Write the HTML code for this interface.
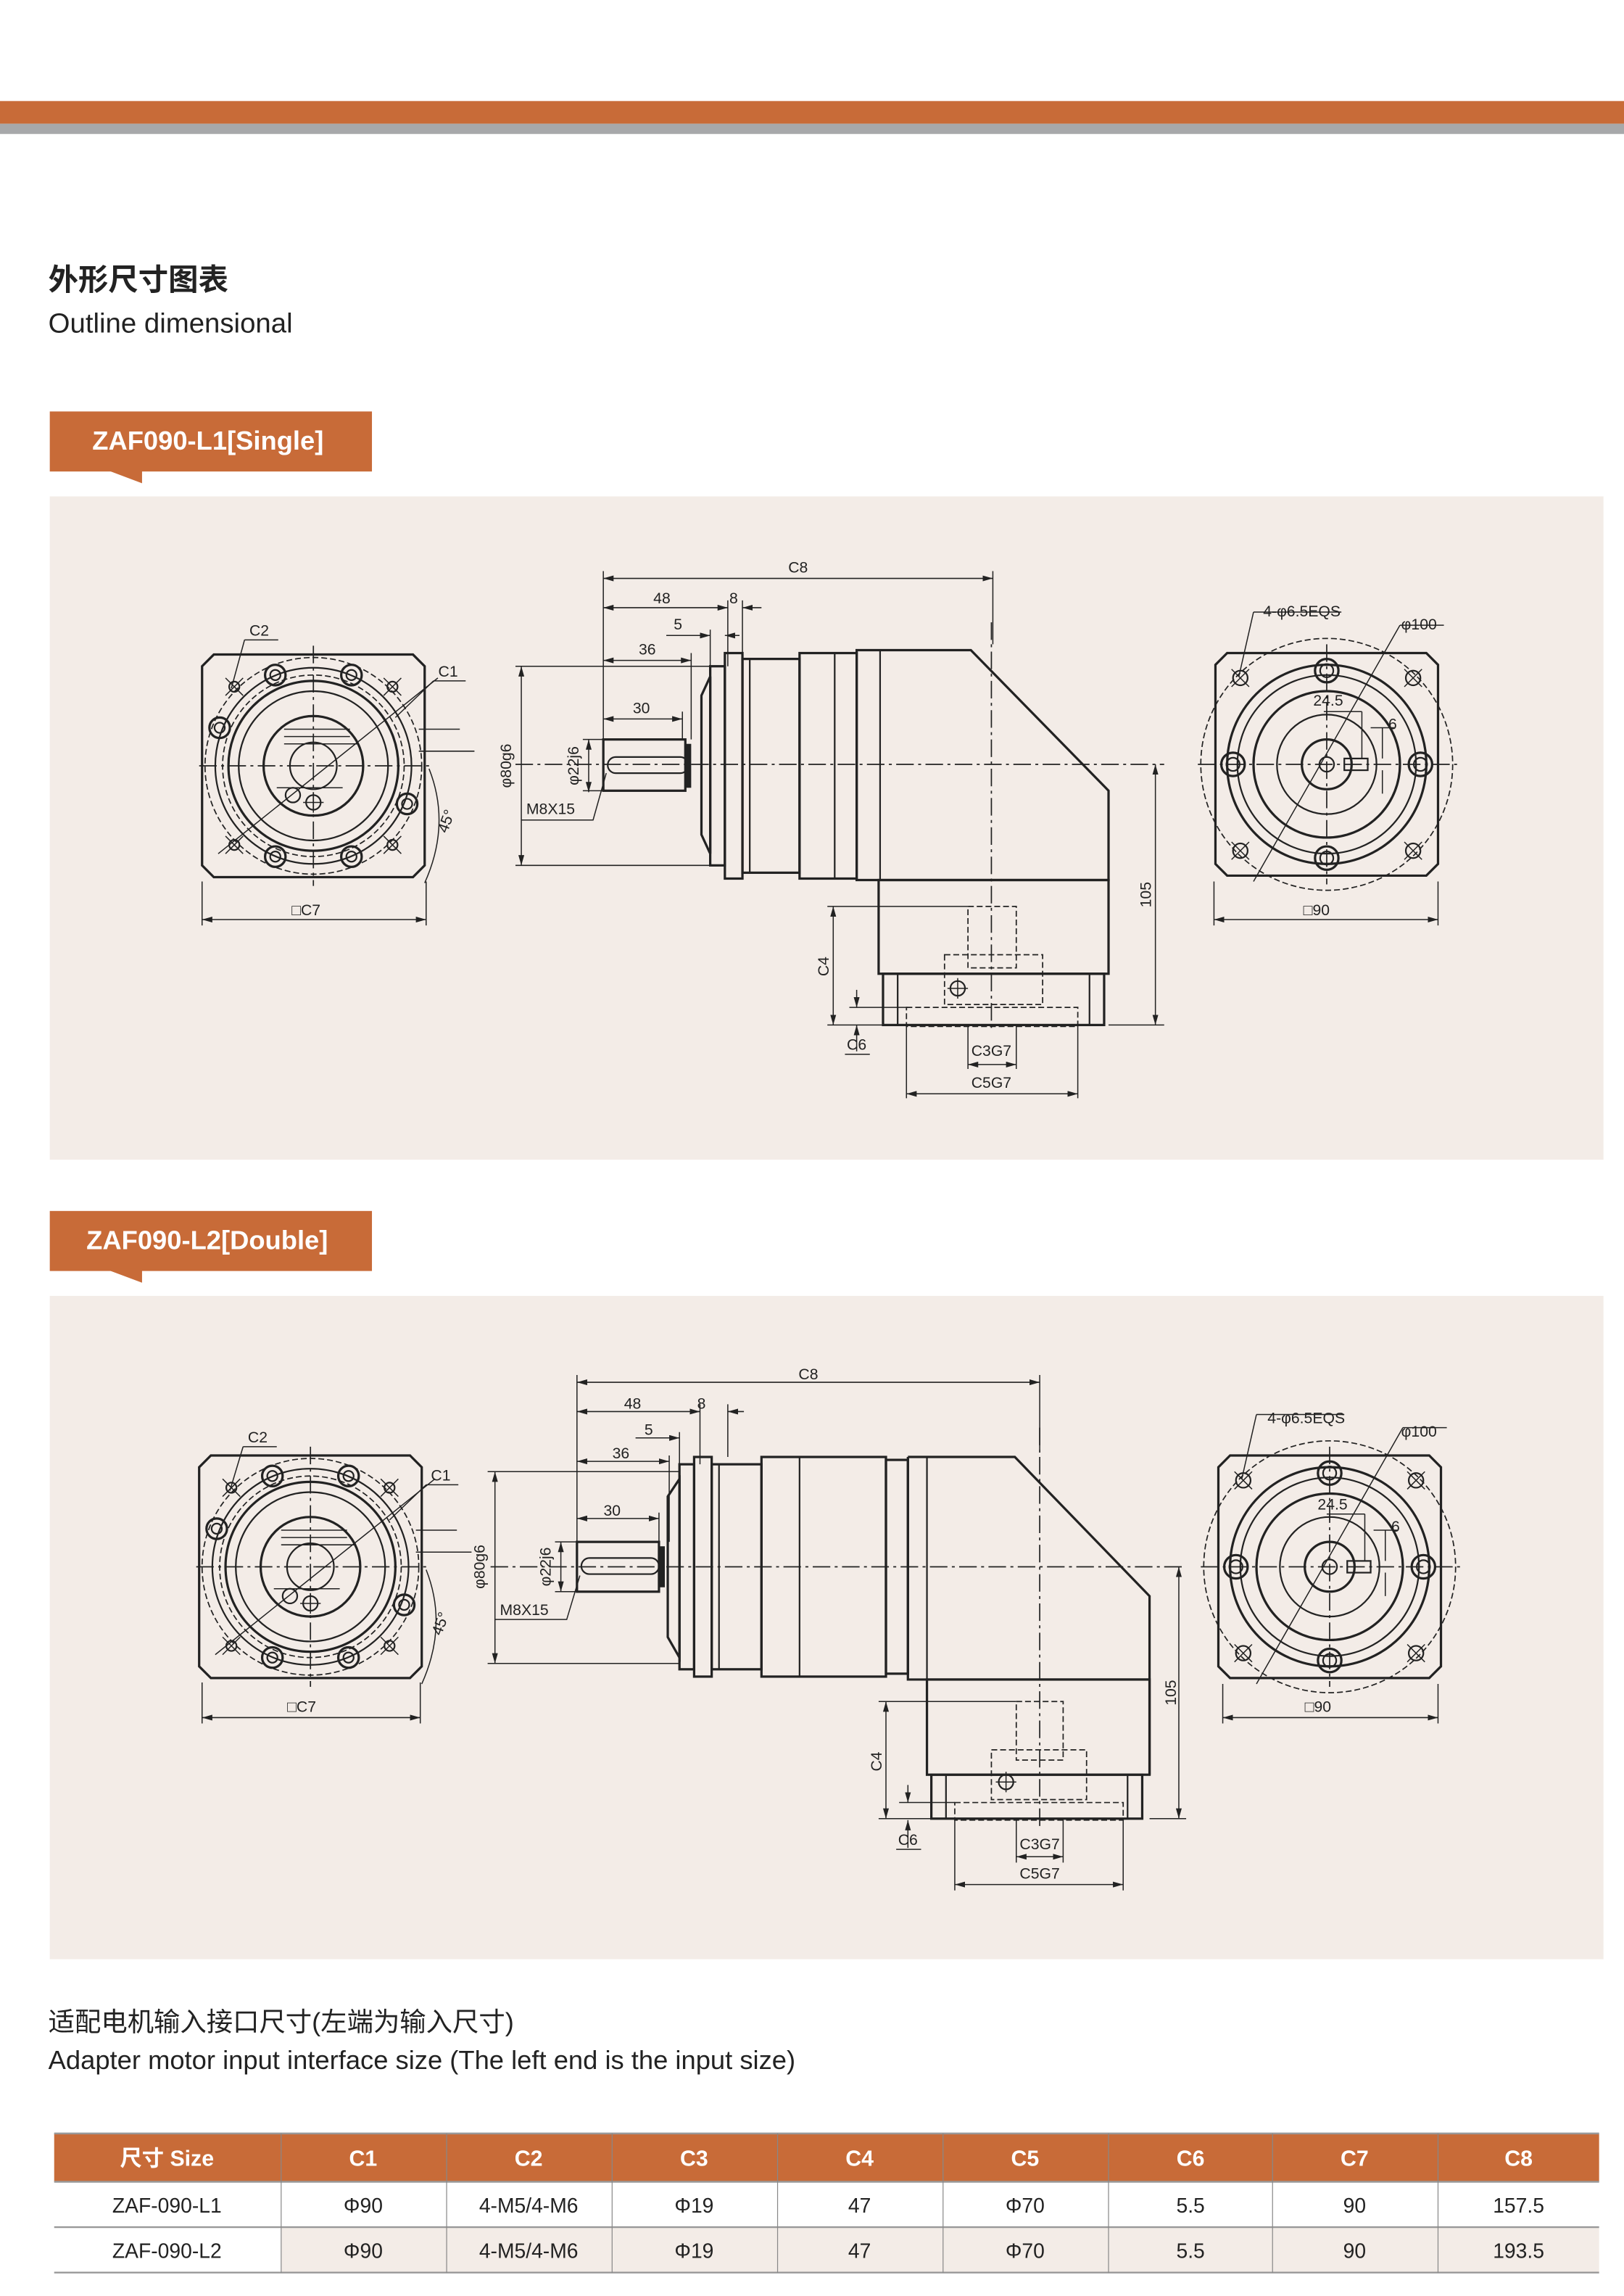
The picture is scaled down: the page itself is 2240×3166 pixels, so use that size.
<!DOCTYPE html>
<html><head><meta charset="utf-8"><style>
html,body{margin:0;padding:0;background:#fff}
svg{display:block}
.o{stroke:#222;fill:none;stroke-width:1.6}
.f{stroke:#222;fill:none;stroke-width:1.1}
.t{stroke:#222;fill:none;stroke-width:0.75}
.d{stroke:#222;fill:none;stroke-width:0.85;stroke-dasharray:4 2}
.c{stroke:#222;fill:none;stroke-width:0.85;stroke-dasharray:12 3 2 3}
.dm{stroke:#222;fill:none;stroke-width:0.75;marker-start:url(#a);marker-end:url(#a)}
.lb{font-family:"Liberation Sans",sans-serif;font-size:10.5px;fill:#222;text-anchor:middle}
</style></head><body>
<svg width="2240" height="3166" viewBox="0 0 1109 1568" preserveAspectRatio="none" xmlns="http://www.w3.org/2000/svg">
<defs>
<marker id="a" markerWidth="7" markerHeight="4" refX="7" refY="2" orient="auto-start-reverse" markerUnits="userSpaceOnUse"><path d="M0,0 L7,2 L0,4z" fill="#222"/></marker>
<g id="lv">
 <path class="o" d="M-68,-76 L68,-76 L76,-68 L76,68 L68,76 L-68,76 L-76,68 L-76,-68Z"/>
 <circle class="d" r="74"/><circle class="f" r="67"/><circle class="d" r="62"/><circle class="o" r="58"/><circle class="f" r="51"/><circle class="o" r="34"/><circle class="f" r="16"/>
 <line class="c" x1="-78" y1="0" x2="82" y2="0"/><line class="c" x1="0" y1="-82" x2="0" y2="82"/>
 <path class="t" d="M-20,-25 H25 M-20,-20 H25 M-20,-15 H30 M-25,15 H20 M72,-25 H100 M72,-10 H110"/>
 <line class="t" x1="-65" y1="60" x2="85" y2="-60"/>
 <g class="o"><circle cx="-26" cy="-62" r="7"/><circle cx="26" cy="-62" r="7"/><circle cx="-64" cy="-26" r="7"/><circle cx="64" cy="26" r="7"/><circle cx="-26" cy="62" r="7"/><circle cx="26" cy="62" r="7"/></g>
 <g class="f"><circle cx="-26" cy="-62" r="3.5"/><circle cx="26" cy="-62" r="3.5"/><circle cx="-64" cy="-26" r="3.5"/><circle cx="64" cy="26" r="3.5"/><circle cx="-26" cy="62" r="3.5"/><circle cx="26" cy="62" r="3.5"/>
 <circle cx="-54" cy="-54" r="3.5"/><circle cx="54" cy="-54" r="3.5"/><circle cx="-54" cy="54" r="3.5"/><circle cx="54" cy="54" r="3.5"/>
 <circle cx="-14" cy="20" r="5"/><circle cx="0" cy="25" r="5"/></g>
 <path class="t" d="M-60,-60 L-48,-48 M-60,-48 L-48,-60 M60,-60 L48,-48 M60,-48 L48,-60 M-60,60 L-48,48 M-60,48 L-48,60 M60,60 L48,48 M60,48 L48,60 M0,18 V32 M-7,25 H7"/>
 <path class="t" d="M79,2 Q94,40 76,80"/>
</g>
<g id="rv">
 <path class="o" d="M-68,-76 L68,-76 L76,-68 L76,68 L68,76 L-68,76 L-76,68 L-76,-68Z"/>
 <circle class="d" r="86"/><circle class="o" r="68"/><circle class="f" r="61"/><circle class="o" r="50"/><circle class="f" r="34"/><circle class="o" r="17"/><circle class="f" r="5"/>
 <line class="c" x1="-88" y1="0" x2="90" y2="0"/><line class="c" x1="0" y1="-82" x2="0" y2="82"/>
 <g class="o"><circle cx="0" cy="-64" r="8"/><circle cx="0" cy="64" r="8"/><circle cx="-64" cy="0" r="8"/><circle cx="64" cy="0" r="8"/></g>
 <g class="f"><circle cx="0" cy="-64" r="4.5"/><circle cx="0" cy="64" r="4.5"/><circle cx="-64" cy="0" r="4.5"/><circle cx="64" cy="0" r="4.5"/>
 <circle cx="-59" cy="-59" r="5"/><circle cx="59" cy="-59" r="5"/><circle cx="-59" cy="59" r="5"/><circle cx="59" cy="59" r="5"/></g>
 <path class="t" d="M-65,-65 L-53,-53 M-65,-53 L-53,-65 M65,-65 L53,-53 M65,-53 L53,-65 M-65,65 L-53,53 M-65,53 L-53,65 M65,65 L53,53 M65,53 L53,65"/>
 <rect class="f" x="12" y="-4" width="16" height="8"/>
 <path class="t" d="M0,-36 V-32 M24,-36 V-4 M-2,-36 H24 M38,-25 V-4 M38,4 V20 M30,-25 H46"/>
 <path class="t" d="M-50,-104 H10 M-50,-104 L-60,-60 M50,-95 H80 M50,-95 L-50,80"/>
</g>
</defs>

<rect x="0" y="69" width="1109" height="15.5" fill="#C86B38"/>
<rect x="0" y="84.5" width="1109" height="7" fill="#A7A8AA"/>
<text x="33" y="198" font-family="Liberation Sans,'Noto Sans CJK SC',sans-serif" font-size="20.5" font-weight="bold" fill="#222">外形尺寸图表</text>
<text x="33" y="227" font-family="Liberation Sans,sans-serif" font-size="19" fill="#222">Outline dimensional</text>

<rect x="34" y="281" width="220" height="41" fill="#C86B38"/>
<path d="M73,321 L97,321 L97,330Z" fill="#C86B38"/>
<text x="63" y="307" font-family="Liberation Sans,sans-serif" font-size="18" font-weight="bold" fill="#fff">ZAF090-L1[Single]</text>
<rect x="34" y="339" width="1061" height="453" fill="#F3ECE7"/>

<use href="#lv" x="214" y="523"/>
<text class="lb" x="177" y="434">C2</text><path class="t" d="M167,437 H190 M167,437 L158,470"/>
<text class="lb" x="306" y="462">C1</text><path class="t" d="M296,465 H318 M296,465 L270,490"/>
<text class="lb" transform="translate(308,562) rotate(-70)">45°</text>
<path class="t" d="M138,602 V632 M291,602 V632"/><line class="dm" x1="138" y1="628" x2="291" y2="628"/>
<text class="lb" x="209" y="625">□C7</text>

<line class="c" x1="352" y1="522" x2="795" y2="522"/>
<line class="c" x1="677" y1="425" x2="677" y2="705"/>
<rect class="o" x="412" y="505" width="56" height="35"/>
<rect class="f" x="415" y="517" width="55" height="11" rx="5.5"/>
<rect x="468" y="508" width="4" height="30" fill="#222"/>
<path class="o" d="M479,475 L485,462 L485,583 L479,570Z"/>
<rect class="o" x="485" y="455" width="10" height="136"/>
<rect class="o" x="495" y="446" width="12" height="154"/>
<rect class="o" x="507" y="450" width="39" height="146"/><line class="f" x1="512" y1="450" x2="512" y2="596"/>
<rect class="o" x="546" y="446" width="39" height="154"/><line class="f" x1="570" y1="446" x2="570" y2="600"/>
<path class="o" d="M585,444 L663,444 L757,540 L757,601 L585,601Z"/><line class="f" x1="601" y1="444" x2="601" y2="601"/>
<rect class="o" x="600" y="601" width="157" height="64"/>
<rect class="o" x="603" y="665" width="151" height="35"/><path class="f" d="M613,665 V700 M744,665 V700"/>
<rect class="d" x="661" y="619" width="33" height="42"/><rect class="d" x="645" y="652" width="67" height="34"/><rect class="d" x="619" y="688" width="117" height="13"/>
<circle class="f" cx="654" cy="675" r="5"/><path class="t" d="M654,668 V682 M647,675 H661"/>
<path class="t" d="M412,390 V505 M678,390 V440 M497,410 V455 M507,410 V446 M485,430 V455 M472,446 V505 M466,486 V505 M352,455 H485 M352,591 H485 M398,505 H412 M398,540 H412 M757,700 H795 M565,619 H661 M565,700 H603 M661,700 V730 M694,700 V730 M619,700 V750 M736,700 V750 M580,688 H620"/>
<line class="dm" x1="412" y1="395" x2="678" y2="395"/><text class="lb" x="545" y="391">C8</text>
<line class="dm" x1="412" y1="415" x2="497" y2="415"/><text class="lb" x="452" y="412">48</text>
<path class="t" d="M507,415 H520" marker-start="url(#a)"/><text class="lb" x="501" y="412">8</text>
<path class="t" d="M455,434 H485" marker-end="url(#a)"/><path class="t" d="M505,434 H495" marker-end="url(#a)"/><text class="lb" x="463" y="430">5</text>
<line class="dm" x1="412" y1="451" x2="472" y2="451"/><text class="lb" x="442" y="447">36</text>
<line class="dm" x1="412" y1="491" x2="466" y2="491"/><text class="lb" x="438" y="487">30</text>
<line class="dm" x1="356" y1="455" x2="356" y2="591"/><text class="lb" transform="translate(349,523) rotate(-90)">φ80g6</text>
<line class="dm" x1="402" y1="505" x2="402" y2="541"/><text class="lb" transform="translate(395,523) rotate(-90)">φ22j6</text>
<path class="t" d="M414,528 L405,560 H356"/><text class="lb" x="376" y="556">M8X15</text>
<line class="dm" x1="789" y1="522" x2="789" y2="700"/><text class="lb" transform="translate(786,611) rotate(-90)">105</text>
<line class="dm" x1="569" y1="619" x2="569" y2="700"/><text class="lb" transform="translate(566,660) rotate(-90)">C4</text>
<path class="t" d="M585,676 V688" marker-end="url(#a)"/><path class="t" d="M585,718 V700" marker-end="url(#a)"/><text class="lb" x="585" y="717">C6</text><path class="t" d="M577,720 H594"/>
<line class="dm" x1="661" y1="727" x2="694" y2="727"/><text class="lb" x="677" y="721">C3G7</text>
<line class="dm" x1="619" y1="747" x2="736" y2="747"/><text class="lb" x="677" y="743">C5G7</text>

<use href="#rv" x="906" y="522"/>
<text class="lb" x="889" y="421">4-φ6.5EQS</text><text class="lb" x="969" y="430">φ100</text>
<text class="lb" x="907" y="482">24.5</text><text class="lb" x="951" y="498">6</text>
<path class="t" d="M829,602 V632 M982,602 V632"/><line class="dm" x1="829" y1="628" x2="982" y2="628"/>
<text class="lb" x="899" y="625">□90</text>

<rect x="34" y="827" width="220" height="41" fill="#C86B38"/>
<path d="M73,867 L97,867 L97,876Z" fill="#C86B38"/>
<text x="59" y="853" font-family="Liberation Sans,sans-serif" font-size="18" font-weight="bold" fill="#fff">ZAF090-L2[Double]</text>
<rect x="34" y="885" width="1061" height="453" fill="#F3ECE7"/>

<use href="#lv" x="212" y="1070"/>
<text class="lb" x="176" y="985">C2</text><path class="t" d="M166,988 H189 M166,988 L157,1018"/>
<text class="lb" x="301" y="1011">C1</text><path class="t" d="M291,1014 H313 M291,1014 L266,1038"/>
<text class="lb" transform="translate(304,1110) rotate(-70)">45°</text>
<path class="t" d="M138,1149 V1177 M287,1149 V1177"/><line class="dm" x1="138" y1="1173" x2="287" y2="1173"/>
<text class="lb" x="206" y="1169">□C7</text>

<line class="c" x1="335" y1="1070" x2="810" y2="1070"/>
<line class="c" x1="710" y1="975" x2="710" y2="1250"/>
<rect class="o" x="394" y="1053" width="56" height="34"/>
<rect class="f" x="397" y="1064" width="53" height="11" rx="5.5"/>
<rect x="450" y="1056" width="4" height="28" fill="#222"/>
<path class="o" d="M456,1022 L464,1010 L464,1132 L456,1118Z"/>
<rect class="o" x="464" y="1000" width="10" height="140"/>
<rect class="o" x="474" y="995" width="12" height="150"/>
<rect class="o" x="486" y="1000" width="34" height="140"/><line class="f" x1="491" y1="1000" x2="491" y2="1140"/>
<rect class="o" x="520" y="995" width="85" height="150"/><line class="f" x1="546" y1="995" x2="546" y2="1145"/>
<rect class="o" x="605" y="997" width="15" height="146"/>
<path class="o" d="M620,995 L693,995 L785,1090 L785,1212 M620,995 L620,1147 L785,1147"/><line class="f" x1="633" y1="995" x2="633" y2="1147"/>
<rect class="o" x="633" y="1147" width="152" height="65"/>
<rect class="o" x="636" y="1212" width="144" height="30"/><path class="f" d="M646,1212 V1242 M770,1212 V1242"/>
<rect class="d" x="694" y="1162" width="32" height="40"/><rect class="d" x="677" y="1195" width="65" height="34"/><rect class="d" x="652" y="1231" width="115" height="12"/>
<circle class="f" cx="687" cy="1217" r="5"/><path class="t" d="M687,1210 V1224 M680,1217 H694"/>
<path class="t" d="M394,939 V1053 M710,939 V990 M478,959 V1000 M497,959 V995 M464,978 V1000 M457,994 V1053 M450,1033 V1053 M333,1005 H464 M333,1136 H464 M379,1053 H394 M379,1087 H394 M785,1242 H810 M600,1162 H694 M600,1242 H636 M694,1242 V1272 M726,1242 V1272 M652,1243 V1291 M767,1243 V1291 M614,1231 H652"/>
<line class="dm" x1="394" y1="944" x2="710" y2="944"/><text class="lb" x="552" y="942">C8</text>
<line class="dm" x1="394" y1="964" x2="478" y2="964"/><text class="lb" x="432" y="962">48</text>
<path class="t" d="M497,964 H508" marker-start="url(#a)"/><text class="lb" x="479" y="962">8</text>
<path class="t" d="M434,982 H464" marker-end="url(#a)"/><text class="lb" x="443" y="980">5</text>
<line class="dm" x1="394" y1="998" x2="457" y2="998"/><text class="lb" x="424" y="996">36</text>
<line class="dm" x1="394" y1="1037" x2="450" y2="1037"/><text class="lb" x="418" y="1035">30</text>
<line class="dm" x1="338" y1="1005" x2="338" y2="1136"/><text class="lb" transform="translate(331,1070) rotate(-90)">φ80g6</text>
<line class="dm" x1="383" y1="1053" x2="383" y2="1087"/><text class="lb" transform="translate(376,1070) rotate(-90)">φ22j6</text>
<path class="t" d="M396,1076 L387,1106 H338"/><text class="lb" x="358" y="1103">M8X15</text>
<line class="dm" x1="805" y1="1070" x2="805" y2="1242"/><text class="lb" transform="translate(803,1156) rotate(-90)">105</text>
<line class="dm" x1="605" y1="1162" x2="605" y2="1242"/><text class="lb" transform="translate(602,1203) rotate(-90)">C4</text>
<path class="t" d="M620,1219 V1231" marker-end="url(#a)"/><path class="t" d="M620,1262 V1243" marker-end="url(#a)"/><text class="lb" x="620" y="1260">C6</text><path class="t" d="M612,1263 H629"/>
<line class="dm" x1="694" y1="1268" x2="726" y2="1268"/><text class="lb" x="710" y="1263">C3G7</text>
<line class="dm" x1="652" y1="1287" x2="767" y2="1287"/><text class="lb" x="710" y="1283">C5G7</text>

<use href="#rv" x="908" y="1070"/>
<text class="lb" x="892" y="972">4-φ6.5EQS</text><text class="lb" x="969" y="981">φ100</text>
<text class="lb" x="910" y="1031">24.5</text><text class="lb" x="953" y="1046">6</text>
<path class="t" d="M835,1150 V1177 M982,1150 V1177"/><line class="dm" x1="835" y1="1173" x2="982" y2="1173"/>
<text class="lb" x="900" y="1169">□90</text>

<text x="33" y="1387" font-family="Liberation Sans,'Noto Sans CJK SC',sans-serif" font-size="18" fill="#222">适配电机输入接口尺寸(左端为输入尺寸)</text>
<text x="33" y="1413" font-family="Liberation Sans,sans-serif" font-size="18" fill="#222">Adapter motor input interface size (The left end is the input size)</text>

<rect x="37" y="1457" width="1055" height="33" fill="#C86B38"/>
<rect x="192" y="1521" width="900" height="31" fill="#F3ECE7"/>
<g stroke="#999" stroke-width="1.2">
<line x1="37" y1="1457" x2="1092" y2="1457"/><line x1="37" y1="1490" x2="1092" y2="1490"/><line x1="37" y1="1521" x2="1092" y2="1521"/><line x1="37" y1="1552" x2="1092" y2="1552"/>
</g>
<g stroke="#888" stroke-width="0.6">
<line x1="192" y1="1457" x2="192" y2="1552"/><line x1="305" y1="1457" x2="305" y2="1552"/><line x1="418" y1="1457" x2="418" y2="1552"/><line x1="531" y1="1457" x2="531" y2="1552"/><line x1="644" y1="1457" x2="644" y2="1552"/><line x1="757" y1="1457" x2="757" y2="1552"/><line x1="869" y1="1457" x2="869" y2="1552"/><line x1="982" y1="1457" x2="982" y2="1552"/>
</g>
<g font-family="Liberation Sans,'Noto Sans CJK SC',sans-serif" font-size="15" font-weight="bold" fill="#fff" text-anchor="middle">
<text x="114" y="1479">尺寸 Size</text><text x="248" y="1479">C1</text><text x="361" y="1479">C2</text><text x="474" y="1479">C3</text><text x="587" y="1479">C4</text><text x="700" y="1479">C5</text><text x="813" y="1479">C6</text><text x="925" y="1479">C7</text><text x="1037" y="1479">C8</text>
</g>
<g font-family="Liberation Sans,sans-serif" font-size="14" fill="#222" text-anchor="middle">
<text x="114" y="1511">ZAF-090-L1</text><text x="248" y="1511">Φ90</text><text x="361" y="1511">4-M5/4-M6</text><text x="474" y="1511">Φ19</text><text x="587" y="1511">47</text><text x="700" y="1511">Φ70</text><text x="813" y="1511">5.5</text><text x="925" y="1511">90</text><text x="1037" y="1511">157.5</text>
<text x="114" y="1542">ZAF-090-L2</text><text x="248" y="1542">Φ90</text><text x="361" y="1542">4-M5/4-M6</text><text x="474" y="1542">Φ19</text><text x="587" y="1542">47</text><text x="700" y="1542">Φ70</text><text x="813" y="1542">5.5</text><text x="925" y="1542">90</text><text x="1037" y="1542">193.5</text>
</g>
</svg>
</body></html>
